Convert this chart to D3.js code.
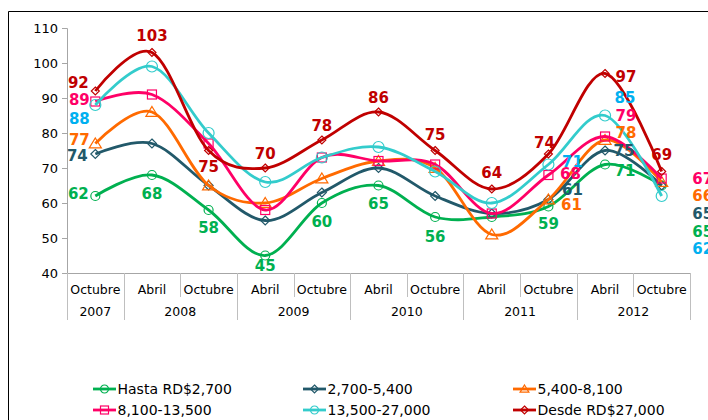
<!DOCTYPE html>
<meta charset="utf-8">
<style>
body{margin:0;background:#fff;}
text{font-family:"DejaVu Sans",Verdana,sans-serif;}
.tick text{font-size:13px;fill:#000;}
.lbl{font-size:15px;font-weight:bold;text-anchor:middle;}
.leg text{font-size:14px;fill:#000;}
</style>
<body>
<script src="https://cdn.jsdelivr.net/npm/d3@7"></script>
<script>

var months=["Octubre","Abril","Octubre","Abril","Octubre","Abril","Octubre","Abril","Octubre","Abril","Octubre"];
var years=["2007","2008","2008","2009","2009","2010","2010","2011","2011","2012","2012"];
var yTicks=[40,50,60,70,80,90,100,110];

var hasta2700   =[62,68,58,45,60,65,56,56,59,71,65];
var s2700_5400  =[74,77,65,55,63,70,62,57,61,75,65];
var s5400_8100  =[77,86,65,60,67,72,70,51,61,78,66];
var s8100_13500 =[89,91,77,58,73,72,71,57,68,79,67];
var s13500_27000=[88,99,80,66,73,76,69,60,71,85,62];
var desde27000  =[92,103,75,70,78,86,75,64,74,97,69];

// label offsets from the point: [index, dx, dy]
var labels={
	h:[[0,-17,-3],[1,0,18],[2,0,17],[3,0,10],[4,0,18],[5,0,18],[6,0,19],[8,0,17],[9,20,6],[10,41,46]],
	a:[[0,-18,1],[8,24,-10],[9,19,0],[10,41,28]],
	b:[[0,-16,-4],[8,23,5],[9,21,-8],[10,41,13]],
	c:[[0,-16,-2],[8,22,-2],[9,21,-21],[10,41,0]],
	d:[[0,-16,13],[8,24,-3],[9,20,-18],[10,41,52]],
	e:[[0,-17,-9],[1,0,-17],[2,0,16],[3,0,-15],[4,0,-15],[5,0,-15],[6,0,-16],[7,0,-17],[8,-4,-12],[9,21,3],[10,0,-17]]
};

var series=[
	{k:"h",name:"Hasta RD$2,700",vals:hasta2700,color:"#00B050",lc:"#00B050",mk:"circle",ms:4.5},
	{k:"a",name:"2,700-5,400",vals:s2700_5400,color:"#22596A",lc:"#22596A",mk:"diamond",ms:4.5},
	{k:"b",name:"5,400-8,100",vals:s5400_8100,color:"#FF6A00",lc:"#FF6A00",mk:"triangle",ms:5.5},
	{k:"c",name:"8,100-13,500",vals:s8100_13500,color:"#FF0066",lc:"#FF0066",mk:"square",ms:4.5},
	{k:"d",name:"13,500-27,000",vals:s13500_27000,color:"#33CCCC",lc:"#00B0F0",mk:"circle",ms:5.5},
	{k:"e",name:"Desde RD$27,000",vals:desde27000,color:"#C00000",lc:"#C00000",mk:"diamond",ms:4}
];

var W=708,H=420;
var svg=d3.select("body").append("svg").attr("width",W).attr("height",H);

svg.append("path").attr("d","M8.5,"+H+"V11.5H"+W).attr("fill","none").attr("stroke","#000");

var x=d3.scaleBand().domain(d3.range(months.length)).range([67,690]).padding(0);
var y=d3.scaleLinear().domain([40,110]).range([273,28]);
var cx=function(i){return x(i)+x.bandwidth()/2;};

// y axis
var ya=svg.append("g").attr("transform","translate(67,0)")
	.call(d3.axisLeft(y).tickValues(yTicks).tickSize(5).tickPadding(4));
ya.select(".domain").attr("stroke","#A6A6A6");
ya.selectAll(".tick line").attr("stroke","#A6A6A6");

// x axis with two rows
var ax=svg.append("g");
ax.append("line").attr("x1",67).attr("x2",690).attr("y1",273.5).attr("y2",273.5).attr("stroke","#A6A6A6");
d3.range(months.length+1).forEach(function(i){
	var xx=(i<months.length?x(i):x(i-1)+x.bandwidth());
	var full=(i==0||i==months.length||years[i]!=years[i-1]);
	ax.append("line").attr("x1",Math.round(xx)+0.5).attr("x2",Math.round(xx)+0.5)
		.attr("y1",273).attr("y2",full?320:297).attr("stroke","#BFBFBF");
});
months.forEach(function(m,i){
	ax.append("text").attr("x",cx(i)).attr("y",294).attr("text-anchor","middle")
		.style("font-size","12.5px").text(m);
});
var groups=[];
years.forEach(function(yr,i){
	if(groups.length&&groups[groups.length-1].yr==yr) groups[groups.length-1].end=i;
	else groups.push({yr:yr,start:i,end:i});
});
groups.forEach(function(g){
	ax.append("text").attr("x",(cx(g.start)+cx(g.end))/2).attr("y",316).attr("text-anchor","middle")
		.style("font-size","12.5px").text(g.yr);
});

function marker(sel,type,s,color){
	if(type=="circle") sel.append("circle").attr("r",s);
	else if(type=="square") sel.append("rect").attr("x",-s).attr("y",-s).attr("width",2*s).attr("height",2*s);
	else if(type=="diamond") sel.append("path").attr("d","M0,"+(-s)+"L"+s+",0L0,"+s+"L"+(-s)+",0Z");
	else sel.append("path").attr("d","M0,"+(-s)+"L"+(s*1.1)+","+(s*0.8)+"L"+(-s*1.1)+","+(s*0.8)+"Z");
	sel.selectAll("*").attr("fill","none").attr("stroke",color).attr("stroke-width",1.2);
}

var line=d3.line().x(function(d,i){return cx(i);}).y(function(d){return y(d);})
	.curve(d3.curveCardinal.tension(0));

series.forEach(function(s){
	svg.append("path").datum(s.vals).attr("d",line).attr("fill","none")
		.attr("stroke",s.color).attr("stroke-width",2.8);
	s.vals.forEach(function(v,i){
		var g=svg.append("g").attr("transform","translate("+cx(i)+","+y(v)+")");
		marker(g,s.mk,s.ms,s.color);
	});
});

series.forEach(function(s){
	labels[s.k].forEach(function(l){
		var i=l[0];
		svg.append("text").attr("class","lbl").attr("fill",s.lc)
			.attr("x",cx(i)+l[1]).attr("y",y(s.vals[i])+l[2]+5.5).text(s.vals[i]);
	});
});

// legend
var legX=[93,303,513],legY=[389,410];
series.forEach(function(s,i){
	var g=svg.append("g").attr("class","leg")
		.attr("transform","translate("+legX[i%3]+","+legY[Math.floor(i/3)]+")");
	g.append("line").attr("x1",0).attr("x2",23).attr("stroke",s.color).attr("stroke-width",2.8);
	var m=g.append("g").attr("transform","translate(11.5,0)");
	marker(m,s.mk,Math.min(s.ms,4),s.color);
	g.append("text").attr("x",24.5).attr("y",5).text(s.name);
});
</script>
</body>
</html>
